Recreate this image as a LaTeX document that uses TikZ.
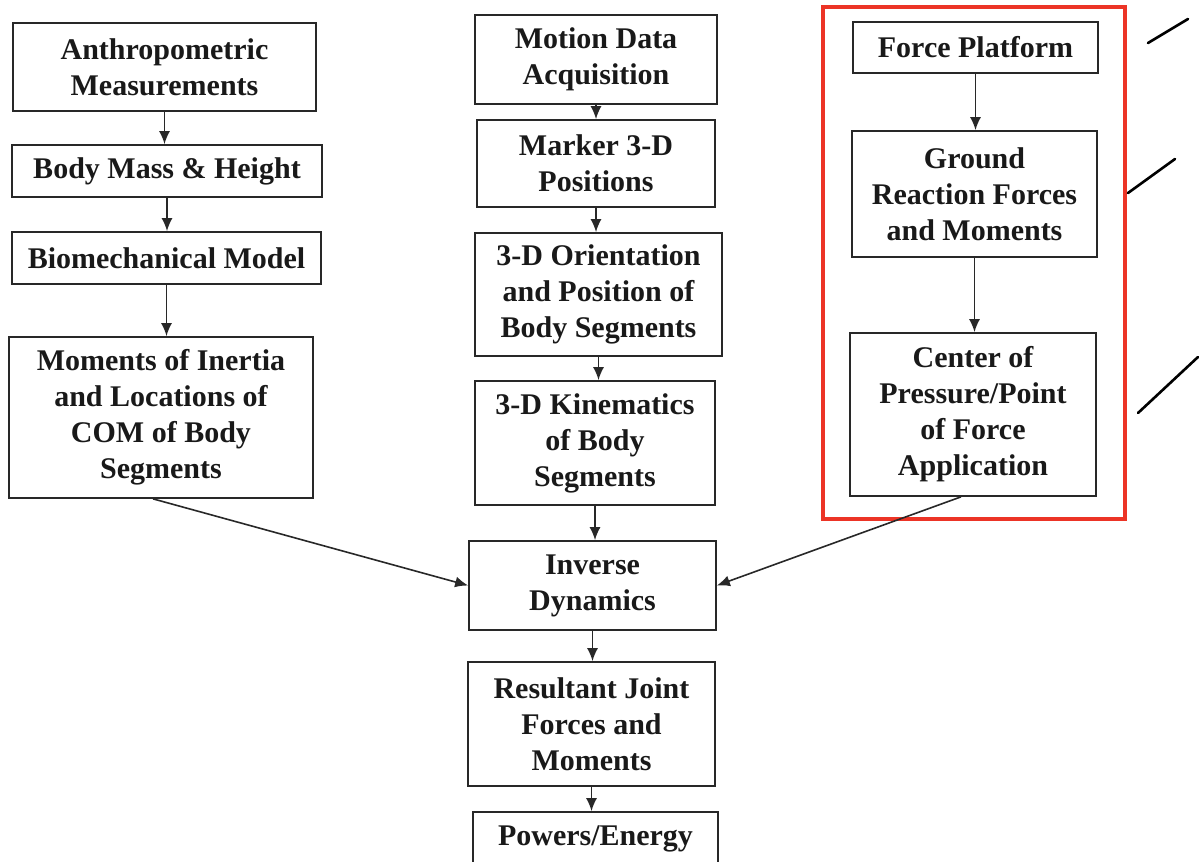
\documentclass[tikz,border=0pt]{standalone}
\usepackage{fontspec}
\setmainfont{Liberation Serif}
\usetikzlibrary{arrows.meta, positioning}
\definecolor{inkgray}{RGB}{40, 40, 40}
\definecolor{markred}{RGB}{236, 52, 38}

\begin{document}
\begin{tikzpicture}[x=0.5pt, y=-0.5pt,
  box/.style={draw=inkgray, line width=0.85pt, align=center, inner sep=0pt,
    font=\fontsize{15}{18}\selectfont\bfseries, text=black!90},
  boxsize/.style 2 args={minimum width=#1*0.5pt, minimum height=#2*0.5pt},
  flow/.style={draw=inkgray, line width=0.8pt, -{Latex[length=6.5pt, width=5.5pt]}},
  pen/.style={line width=1.3pt, line cap=round}]
  \useasboundingbox (0,0) rectangle (1201,862);

  % Left column: body model
  \node[box, boxsize={303}{88}]  (anthro)  at (164.5, 67)   {Anthropometric\\Measurements};
  \node[box, boxsize={310}{52}]  (mass)    at (167, 171)    {Body Mass \& Height};
  \node[box, boxsize={309}{52}]  (biomech) at (166.5, 258)  {Biomechanical Model};
  \node[box, boxsize={304}{161}] (inertia) at (161, 417.5)  {Moments of Inertia\\and Locations of\\COM of Body\\Segments};

  % Middle column: motion data
  \node[box, boxsize={242}{89}]  (motion)  at (596, 59.5)   {Motion Data\\Acquisition};
  \node[box, boxsize={238}{87}]  (marker)  at (596, 163.5)  {Marker 3-D\\Positions};
  \node[box, boxsize={247}{123}] (orient)  at (598.5, 294.5) {3-D Orientation\\and Position of\\Body Segments};
  \node[box, boxsize={240}{124}] (kinem)   at (595, 443)    {3-D Kinematics\\of Body\\Segments};
  \node[box, boxsize={247}{89}]  (inverse) at (592.5, 585.5) {Inverse\\Dynamics};
  \node[box, boxsize={247}{124}] (result)  at (591.5, 724)  {Resultant Joint\\Forces and\\Moments};
  \node[box, boxsize={245}{54}]  (power)   at (595.5, 839)  {Powers/Energy};

  % Right column: force platform
  \node[box, boxsize={245}{51}]  (platform) at (975.5, 47.5) {Force Platform};
  \node[box, boxsize={245}{126}] (grf)      at (974.5, 194)  {Ground\\Reaction Forces\\and Moments};
  \node[box, boxsize={246}{163}] (cop)      at (973, 414.5)  {Center of\\Pressure/Point\\of Force\\Application};

  % red highlight round the force platform branch
  \draw[markred, line width=2pt] (823,7) rectangle (1125,519);

  % vertical links
  \foreach \a/\b in {anthro/mass, mass/biomech, biomech/inertia,
                     motion/marker, marker/orient, orient/kinem, kinem/inverse,
                     inverse/result, result/power, platform/grf, grf/cop} {
    \draw[flow] (\a.south) -- (\a.south |- \b.north);
  }

  % side inputs to inverse dynamics
  \draw[flow] ([xshift=-4pt]inertia.south) -- (inverse.west);
  \draw[flow] ([xshift=-6pt]cop.south) -- (inverse.east);

  % pen marks in the margin
  \draw[pen] (1148,43) -- (1188,19);
  \draw[pen] (1128,193) -- (1175,159);
  \draw[pen] (1138,413) -- (1198,357);
\end{tikzpicture}
\end{document}
